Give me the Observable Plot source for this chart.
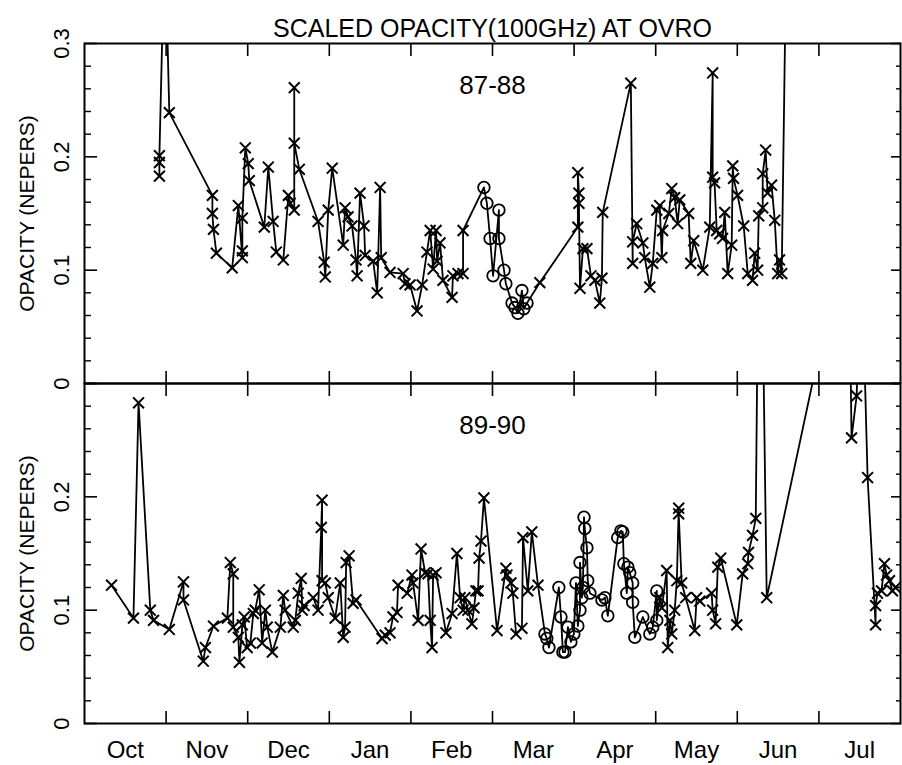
<!DOCTYPE html>
<html>
<head>
<meta charset="utf-8">
<script src="https://cdn.jsdelivr.net/npm/d3@7"></script>
<script src="https://cdn.jsdelivr.net/npm/@observablehq/plot@0.6"></script>
<style>
  body { margin: 0; background: #fff; }
  #chart { width: 902px; height: 765px; }
</style>
</head>
<body>
<div id="chart"></div>
<script>
// ---- text ----
const title = "SCALED OPACITY(100GHz) AT OVRO";
const yTitle = "OPACITY (NEPERS)";
const seasons = ["87-88", "89-90"];
const monthNames = ["Oct", "Nov", "Dec", "Jan", "Feb", "Mar", "Apr", "May", "Jun", "Jul"];

// ---- axis ticks ----
const majorY = [0, 0.1, 0.2, 0.3];
const minorY = [0.02, 0.04, 0.06, 0.08, 0.12, 0.14, 0.16, 0.18, 0.22, 0.24, 0.26, 0.28];
const yTickLabels87 = [0, 0.1, 0.2, 0.3];
const yTickLabels89 = [0, 0.1, 0.2];
const monthLength = 30.5; // days per month band on the axis (Oct 1 = day 0)

// ---- data: [days since Oct 1, opacity (nepers), symbol] ----
const s8788 = [
[28.0,0.183,"x"],[28.0,0.195,"x"],[28.0,0.201,"x"],[30.0,0.40,"x"],[31.7,0.239,"x"],
[47.8,0.166,"x"],[47.8,0.150,"x"],[48.2,0.136,"x"],[49.3,0.115,"x"],[55.2,0.102,"x"],
[57.5,0.157,"x"],[59.0,0.111,"x"],[59.0,0.117,"x"],[59.0,0.146,"x"],[60.1,0.208,"x"],
[61.2,0.194,"x"],[61.6,0.179,"x"],[67.2,0.138,"x"],[68.7,0.191,"x"],[70.5,0.143,"x"],
[71.7,0.116,"x"],[74.3,0.109,"x"],[76.2,0.166,"x"],[76.9,0.159,"x"],[78.4,0.153,"x"],
[78.4,0.261,"x"],[78.4,0.212,"x"],[80.3,0.189,"x"],[87.3,0.143,"x"],[89.6,0.107,"x"],
[90.0,0.094,"x"],[91.1,0.153,"x"],[92.6,0.190,"x"],[96.7,0.122,"x"],[97.4,0.155,"x"],
[98.5,0.147,"x"],[100.0,0.139,"x"],[101.5,0.109,"x"],[101.9,0.095,"x"],[103.0,0.168,"x"],
[104.5,0.139,"x"],[104.9,0.113,"x"],[107.9,0.108,"x"],[109.4,0.080,"x"],[110.5,0.173,"x"],
[110.9,0.111,"x"],[114.2,0.098,"x"],[119.1,0.097,"x"],[119.8,0.088,"x"],[121.7,0.087,"x"],
[124.3,0.064,"x"],[126.2,0.087,"x"],[128.0,0.116,"x"],[129.2,0.135,"x"],[130.3,0.101,"x"],
[131.4,0.135,"x"],[131.8,0.108,"x"],[132.9,0.124,"x"],[134.0,0.091,"x"],[137.4,0.076,"x"],
[137.7,0.095,"x"],[139.6,0.097,"x"],[141.5,0.097,"x"],[141.5,0.135,"x"],
[149.3,0.173,"o"],[150.4,0.159,"o"],[151.6,0.128,"o"],[152.7,0.095,"o"],[154.9,0.153,"o"],
[154.9,0.128,"o"],[156.8,0.100,"o"],[157.5,0.088,"o"],[159.8,0.071,"o"],[160.9,0.067,"o"],
[162.0,0.062,"o"],[163.5,0.082,"o"],[164.2,0.066,"o"],[165.4,0.071,"o"],
[170.2,0.089,"x"],[184.4,0.138,"x"],[184.4,0.186,"x"],[184.8,0.168,"x"],[184.8,0.159,"x"],
[185.2,0.084,"x"],[186.3,0.119,"x"],[187.8,0.119,"x"],[189.3,0.095,"x"],[190.8,0.091,"x"],
[192.6,0.071,"x"],[193.4,0.093,"x"],[193.7,0.151,"x"],[204.2,0.265,"x"],[204.9,0.106,"x"],
[204.9,0.125,"x"],[206.4,0.141,"x"],[208.7,0.124,"x"],[209.4,0.111,"x"],[211.3,0.085,"x"],
[212.4,0.106,"x"],[213.9,0.153,"x"],[215.0,0.157,"x"],[215.8,0.111,"x"],[216.1,0.135,"x"],
[218.4,0.150,"x"],[219.5,0.172,"x"],[220.6,0.164,"x"],[221.7,0.141,"x"],[222.5,0.162,"x"],
[225.8,0.150,"x"],[226.6,0.106,"x"],[227.7,0.126,"x"],[231.1,0.100,"x"],[233.7,0.138,"x"],
[234.8,0.274,"x"],[234.8,0.182,"x"],[235.5,0.177,"x"],[236.3,0.135,"x"],[237.4,0.132,"x"],
[238.5,0.128,"x"],[239.3,0.151,"x"],[240.4,0.097,"x"],[241.9,0.122,"x"],[242.3,0.192,"x"],
[242.6,0.181,"x"],[244.1,0.166,"x"],[246.4,0.139,"x"],[247.9,0.097,"x"],[249.7,0.091,"x"],
[250.5,0.115,"x"],[251.6,0.100,"x"],[252.0,0.148,"x"],[253.5,0.155,"x"],[253.5,0.185,"x"],
[254.6,0.206,"x"],[255.3,0.168,"x"],[256.8,0.175,"x"],[258.0,0.144,"x"],[259.1,0.097,"x"],
[259.8,0.109,"x"],[260.6,0.097,"x"],[263.6,0.60,"x"]
];

const s8990 = [
[10.1,0.122,"x"],[18.3,0.093,"x"],[20.2,0.283,"x"],[24.6,0.100,"x"],[25.8,0.091,"x"],
[31.7,0.083,"x"],[37.0,0.125,"x"],[37.0,0.109,"x"],[44.4,0.055,"x"],[45.2,0.067,"x"],
[48.2,0.086,"x"],[53.4,0.093,"x"],[54.5,0.142,"x"],[55.6,0.132,"x"],[55.6,0.085,"x"],
[57.5,0.076,"x"],[57.9,0.054,"x"],[59.0,0.087,"x"],[59.7,0.094,"x"],[60.8,0.067,"x"],
[62.0,0.071,"x"],[63.1,0.097,"x"],[63.8,0.100,"x"],[65.3,0.118,"x"],[66.4,0.071,"x"],
[67.6,0.100,"x"],[68.3,0.085,"x"],[70.2,0.063,"x"],[73.2,0.085,"x"],[74.3,0.113,"x"],
[75.0,0.100,"x"],[78.0,0.085,"x"],[78.8,0.091,"x"],[79.9,0.115,"x"],[81.0,0.128,"x"],
[81.4,0.100,"x"],[82.1,0.104,"x"],[85.5,0.111,"x"],[87.3,0.100,"x"],[88.5,0.173,"x"],
[88.8,0.197,"x"],[88.8,0.126,"x"],[90.0,0.124,"x"],[91.1,0.111,"x"],[93.7,0.093,"x"],
[95.6,0.124,"x"],[96.7,0.076,"x"],[97.4,0.085,"x"],[97.8,0.142,"x"],[98.9,0.148,"x"],
[100.4,0.106,"x"],[101.5,0.109,"x"],[111.2,0.075,"x"],[112.4,0.078,"x"],[114.2,0.080,"x"],
[115.3,0.094,"x"],[116.8,0.098,"x"],[117.2,0.122,"x"],[120.6,0.115,"x"],[122.4,0.131,"x"],
[122.8,0.124,"x"],[124.7,0.091,"x"],[125.8,0.154,"x"],[127.3,0.133,"x"],[128.4,0.132,"x"],
[129.2,0.091,"x"],[129.9,0.067,"x"],[130.3,0.131,"x"],[131.4,0.133,"x"],[135.1,0.080,"x"],
[137.4,0.097,"x"],[139.2,0.150,"x"],[140.4,0.111,"x"],[141.5,0.100,"x"],[142.2,0.111,"x"],
[143.3,0.100,"x"],[144.8,0.088,"x"],[145.6,0.102,"x"],[146.3,0.117,"x"],[147.1,0.117,"x"],
[147.5,0.146,"x"],[148.2,0.161,"x"],[149.3,0.199,"x"],[154.2,0.082,"x"],[157.5,0.137,"x"],
[157.9,0.131,"x"],[159.4,0.124,"x"],[160.1,0.115,"x"],[161.3,0.079,"x"],[163.5,0.084,"x"],
[163.9,0.164,"x"],[165.7,0.117,"x"],[167.2,0.169,"x"],[169.5,0.122,"x"],
[172.1,0.079,"o"],[172.8,0.075,"o"],[173.6,0.067,"o"],[177.3,0.120,"o"],[178.1,0.094,"o"],
[178.8,0.063,"o"],[179.6,0.063,"o"],[180.7,0.085,"o"],[181.8,0.072,"o"],[182.9,0.079,"o"],
[183.7,0.124,"o"],[184.4,0.086,"o"],[185.2,0.100,"o"],[185.2,0.142,"o"],[185.9,0.111,"o"],
[186.3,0.120,"o"],[186.7,0.182,"o"],[187.0,0.172,"o"],[187.8,0.155,"o"],[188.1,0.126,"o"],
[188.9,0.115,"o"],[193.4,0.109,"o"],[194.5,0.111,"o"],[195.6,0.095,"o"],[199.3,0.164,"o"],
[200.5,0.170,"o"],[201.2,0.169,"o"],[201.6,0.141,"o"],[202.7,0.115,"o"],[203.1,0.138,"o"],
[203.8,0.133,"o"],[204.9,0.124,"o"],[204.9,0.107,"o"],[205.7,0.076,"o"],[208.7,0.094,"o"],
[211.3,0.079,"o"],[212.4,0.085,"o"],[213.9,0.117,"o"],[213.9,0.091,"o"],
[215.0,0.111,"x"],[215.8,0.102,"x"],[217.6,0.135,"x"],[218.0,0.067,"x"],[218.8,0.091,"x"],
[219.5,0.079,"x"],[220.6,0.100,"x"],[221.4,0.126,"x"],[222.1,0.190,"x"],[222.1,0.185,"x"],
[223.2,0.124,"x"],[224.7,0.111,"x"],[228.1,0.082,"x"],[228.8,0.111,"x"],[230.0,0.108,"x"],
[234.4,0.115,"x"],[234.8,0.100,"x"],[235.9,0.088,"x"],[236.7,0.138,"x"],[237.8,0.146,"x"],
[243.8,0.087,"x"],[246.0,0.132,"x"],[247.9,0.141,"x"],[248.2,0.151,"x"],[249.7,0.166,"x"],
[250.9,0.181,"x"],[252.4,0.55,"x"],[255.0,0.111,"x"],[285.6,0.45,"x"],[286.7,0.252,"x"],
[288.6,0.289,"x"],[290.4,0.42,"x"],[292.7,0.217,"x"],[295.7,0.087,"x"],[295.7,0.104,"x"],
[296.4,0.115,"x"],[297.9,0.117,"x"],[299.0,0.141,"x"],[299.8,0.131,"x"],[300.9,0.126,"x"],
[302.0,0.117,"x"],[303.1,0.120,"x"]
];

// ---- build tables ----
const rows = [
  ...s8788.map(([day, v, sym]) => ({season: seasons[0], day, v, sym})),
  ...s8990.map(([day, v, sym]) => ({season: seasons[1], day, v, sym}))
];
const crosses = rows.filter(d => d.sym === "x");
const circles = rows.filter(d => d.sym === "o");
const yLabelRows = [
  ...yTickLabels87.map(v => ({season: seasons[0], v})),
  ...yTickLabels89.map(v => ({season: seasons[1], v}))
];
const monthTicks = monthNames.slice(1).map((_, i) => (i + 1) * monthLength);
const monthMids = monthNames.map((_, i) => i * monthLength + monthLength / 2);
const fmtY = v => v === 0 ? "0" : v.toFixed(1);
const FONT = "'Liberation Sans', Arial, Helvetica, sans-serif";

const chart = Plot.plot({
  width: 902,
  height: 765,
  marginLeft: 84,
  marginRight: 2,
  marginTop: 43,
  marginBottom: 42,
  style: {fontFamily: FONT, background: "white", color: "black", overflow: "visible"},
  x: {domain: [0, monthLength * 10], label: null},
  y: {domain: [0, 0.3], label: null},
  fy: {domain: seasons, axis: null, label: null, padding: 0},
  marks: [
    // inward ticks
    Plot.axisY(minorY, {anchor: "left", tickSize: -7, tickFormat: () => "", label: null, strokeWidth: 1.4}),
    Plot.axisY(majorY, {anchor: "left", tickSize: -13, tickFormat: () => "", label: null, strokeWidth: 1.6}),
    Plot.axisY(minorY, {anchor: "right", tickSize: -5, tickFormat: () => "", label: null, strokeWidth: 1.4}),
    Plot.axisY(majorY, {anchor: "right", tickSize: -10, tickFormat: () => "", label: null, strokeWidth: 1.6}),
    Plot.axisX(monthTicks, {anchor: "top", tickSize: -12, tickFormat: () => "", label: null, facetAnchor: null, strokeWidth: 1.6}),
    Plot.axisX(monthTicks, {anchor: "bottom", tickSize: -12, tickFormat: () => "", label: null, facetAnchor: null, strokeWidth: 1.6}),
    // month labels (bottom panel only)
    Plot.axisX(monthMids, {
      anchor: "bottom", tickSize: 0, tickPadding: 17, fontSize: 24, label: null,
      tickFormat: d => monthNames[Math.round((d - monthLength / 2) / monthLength)]
    }),
    // y tick labels, rotated
    Plot.text(yLabelRows, {
      fy: "season", y: "v", text: d => fmtY(d.v), frameAnchor: "left",
      textAnchor: "middle", lineAnchor: "middle",
      dx: -23, rotate: -90, fontSize: 22
    }),
    // y title
    Plot.text(seasons, {
      fy: d => d, frameAnchor: "left", textAnchor: "middle", lineAnchor: "middle",
      dx: -57, rotate: -90, text: () => yTitle, fontSize: 21
    }),
    // panel labels
    Plot.text(seasons, {fy: d => d, frameAnchor: "top", dy: 32, text: d => d, fontSize: 26}),
    // title
    Plot.text([seasons[0]], {fy: d => d, frameAnchor: "top", dy: -24, text: () => title, fontSize: 25}),
    // data
    Plot.line(rows, {x: "day", y: "v", fy: "season", stroke: "black", strokeWidth: 1.8, clip: true}),
    Plot.dot(crosses, {x: "day", y: "v", fy: "season", symbol: "times", r: 5, stroke: "black", strokeWidth: 2, clip: true}),
    Plot.dot(circles, {x: "day", y: "v", fy: "season", symbol: "circle", r: 5.8, stroke: "black", fill: "none", strokeWidth: 1.8, clip: true}),
    Plot.frame({stroke: "black", strokeWidth: 2})
  ]
});
document.getElementById("chart").append(chart);
</script>
</body>
</html>
